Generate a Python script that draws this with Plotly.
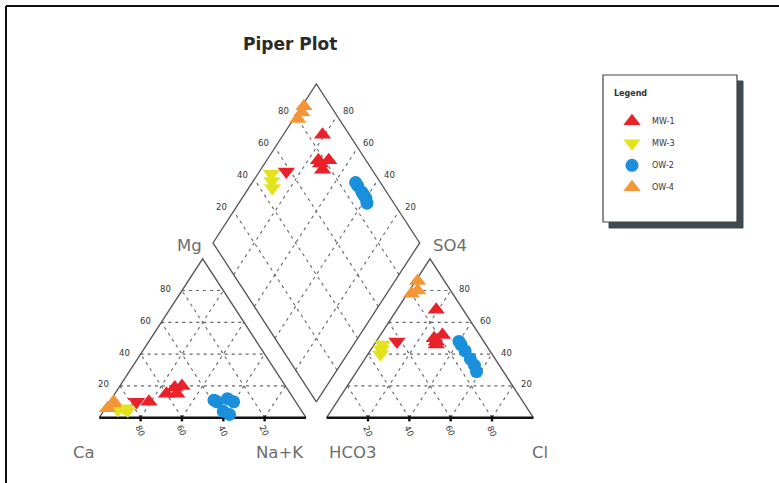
import numpy as np
import plotly.graph_objects as go

# ---------------- data (percent of meq) ----------------
mw1_ca   = [71, 60, 50, 55, 54]
mw1_mg   = [10, 15, 20, 15, 19]
mw1_nak  = [19, 25, 30, 30, 27]
mw1_hco3 = [13, 23, 18, 24, 23]
mw1_so4  = [68, 48, 52, 46, 50]
mw1_cl   = [19, 29, 30, 30, 27]

mw3_ca   = [88.5, 85, 84]
mw3_mg   = [5, 6, 4.5]
mw3_nak  = [6.5, 9, 11.5]
mw3_hco3 = [50, 52, 54]
mw3_so4  = [46, 43, 40]
mw3_cl   = [4, 5, 6]

# one extra sample drawn as a red down-triangle (not in the legend)
x_ca   = [77]
x_mg   = [10]
x_nak  = [13]
x_hco3 = [42]
x_so4  = [48]
x_cl   = [10]

ow2_ca   = [38, 32, 30, 38, 36, 39]
ow2_mg   = [10, 12, 10, 4, 2, 11]
ow2_nak  = [52, 56, 60, 58, 62, 50]
ow2_hco3 = [12, 12, 12, 12, 13, 12]
ow2_so4  = [46, 42, 37, 33, 29, 48]
ow2_cl   = [42, 46, 51, 55, 58, 40]

ow4_ca   = [93, 88, 89]
ow4_mg   = [6, 10, 9]
ow4_nak  = [1, 2, 2]
ow4_hco3 = [13, 16, 20]
ow4_so4  = [86, 80, 78]
ow4_cl   = [1, 4, 2]

tick_vals = [20, 40, 60, 80]

# ---------------- geometry ----------------
H = np.sqrt(3) / 2
GAP = 0.1


def cation_xy(mg, nak):
    mg = np.asarray(mg) / 100.0
    nak = np.asarray(nak) / 100.0
    return nak + mg / 2, mg * H


def anion_xy(so4, cl):
    so4 = np.asarray(so4) / 100.0
    cl = np.asarray(cl) / 100.0
    return 1 + GAP + cl + so4 / 2, so4 * H


def diamond_xy(nak, so4, cl):
    n = np.asarray(nak) / 100.0
    s = (np.asarray(so4) + np.asarray(cl)) / 100.0
    return 0.55 + (n + s) / 2, H * (1 + GAP + s - n)


def all_xy(mg, nak, so4, cl):
    cx, cy = cation_xy(mg, nak)
    ax, ay = anion_xy(so4, cl)
    dx, dy = diamond_xy(nak, so4, cl)
    return (np.concatenate([cx, ax, dx]).tolist(),
            np.concatenate([cy, ay, dy]).tolist())


B = (1.05, GAP * H)
L = (0.55, GAP * H + H)
R = (1.55, GAP * H + H)
T = (1.05, (2 + GAP) * H)

fig = go.Figure()

# grid lines
gx, gy = [], []
for v in tick_vals:
    f = v / 100.0
    for off in (0.0, 1 + GAP):
        gx += [off + f / 2, off + 1 - f / 2, None]; gy += [f * H, f * H, None]
        gx += [off + f, off + f + (1 - f) / 2, None]; gy += [0, (1 - f) * H, None]
        gx += [off + 1 - f, off + (1 - f) / 2, None]; gy += [0, (1 - f) * H, None]
    p = (B[0] + f * (R[0] - B[0]), B[1] + f * (R[1] - B[1]))
    q = (L[0] + f * (T[0] - L[0]), L[1] + f * (T[1] - L[1]))
    gx += [p[0], q[0], None]; gy += [p[1], q[1], None]
    p = (B[0] + f * (L[0] - B[0]), B[1] + f * (L[1] - B[1]))
    q = (R[0] + f * (T[0] - R[0]), R[1] + f * (T[1] - R[1]))
    gx += [p[0], q[0], None]; gy += [p[1], q[1], None]

fig.add_trace(go.Scatter(x=gx, y=gy, mode="lines", hoverinfo="skip", showlegend=False,
                         line=dict(color="#666666", width=1.1, dash="3px,4px")))

# outlines
ox = [0, 0.5, 1, None, 1 + GAP, 1.6, 2 + GAP, None,
      B[0], R[0], T[0], L[0], B[0]]
oy = [0, H, 0, None, 0, H, 0, None,
      B[1], R[1], T[1], L[1], B[1]]
fig.add_trace(go.Scatter(x=ox, y=oy, mode="lines", hoverinfo="skip", showlegend=False,
                         line=dict(color="#555555", width=1.3)))

# bases + ticks
bx = [0, 1, None, 1 + GAP, 2 + GAP, None]
by = [0, 0, None, 0, 0, None]
for v in tick_vals:
    f = v / 100.0
    for off in (0.0, 1 + GAP):
        bx += [off + f, off + f, None]
        by += [0.012, -0.02, None]
fig.add_trace(go.Scatter(x=bx, y=by, mode="lines", hoverinfo="skip", showlegend=False,
                         line=dict(color="#111111", width=2.4)))

# data series
series = [
    ("MW-1", mw1_mg, mw1_nak, mw1_so4, mw1_cl, "#e8212b", "triangle-up", 15, True),
    ("MW-3", mw3_mg, mw3_nak, mw3_so4, mw3_cl, "#e3e21c", "triangle-down", 15, True),
    ("OW-2", ow2_mg, ow2_nak, ow2_so4, ow2_cl, "#1a8fdc", "circle", 13, True),
    ("OW-4", ow4_mg, ow4_nak, ow4_so4, ow4_cl, "#f39638", "triangle-up", 15, True),
    ("extra", x_mg, x_nak, x_so4, x_cl, "#e8212b", "triangle-down", 15, False),
]
for name, mg, nak, so4, cl, col, sym, size, show in series:
    xs, ys = all_xy(mg, nak, so4, cl)
    fig.add_trace(go.Scatter(x=xs, y=ys, mode="markers", name=name, showlegend=show,
                             legendgroup=name,
                             marker=dict(color=col, symbol=sym, size=size, line=dict(width=0))))

# ---------------- text ----------------
ann = []
lab_font = dict(family="DejaVu Sans", size=16.5, color="#6e6e6e")
tick_font = dict(family="DejaVu Sans", size=8.5, color="#333333")


def add_label(x, y, text, font, xshift=0, yshift=0, angle=0):
    ann.append(dict(x=x, y=y, xref="x", yref="y", text=text, showarrow=False, font=font,
                    xanchor="center", yanchor="middle",
                    xshift=xshift, yshift=yshift, textangle=angle))


for v in tick_vals:
    f = v / 100.0
    add_label(f, 0, str(100 - v), tick_font, yshift=-13, angle=65)
    add_label(f / 2, f * H, str(v), tick_font, xshift=-16, yshift=1.5)
    add_label(1 + GAP + f, 0, str(v), tick_font, yshift=-13, angle=65)
    add_label(2 + GAP - f / 2, f * H, str(v), tick_font, xshift=14, yshift=1.5)
    add_label(L[0] + f * (T[0] - L[0]), L[1] + f * (T[1] - L[1]), str(v), tick_font,
              xshift=-12, yshift=4.5)
    add_label(R[0] + f * (T[0] - R[0]), R[1] + f * (T[1] - R[1]), str(v), tick_font,
              xshift=11, yshift=4.5)

add_label(0, 0, "Ca", lab_font, xshift=-15, yshift=-35)
add_label(1, 0, "Na+K", lab_font, xshift=-26, yshift=-35)
add_label(1 + GAP, 0, "HCO3", lab_font, xshift=26, yshift=-35)
add_label(2 + GAP, 0, "Cl", lab_font, xshift=7, yshift=-35)
add_label(0.5, H, "Mg", lab_font, xshift=-13, yshift=13)
add_label(1.6, H, "SO4", lab_font, xshift=20, yshift=13)

W, Hh = 779, 483


def px(x):
    return x / W


def py(y):
    return 1 - y / Hh


ann.append(dict(x=px(290), y=py(44), xref="paper", yref="paper", text="<b>Piper Plot</b>",
                xanchor="center", yanchor="middle",
                showarrow=False, font=dict(family="DejaVu Sans", size=17, color="#2a2a2a")))

shapes = [
    dict(type="line", xref="paper", yref="paper", x0=px(6), y0=py(6), x1=1, y1=py(6),
         line=dict(color="#111111", width=2)),
    dict(type="line", xref="paper", yref="paper", x0=px(6), y0=py(6), x1=px(6), y1=0,
         line=dict(color="#111111", width=2)),
    dict(type="rect", xref="paper", yref="paper", x0=px(609), y0=py(81), x1=px(743), y1=py(228),
         fillcolor="#3e4a52", line=dict(color="#3e4a52", width=1)),
    dict(type="rect", xref="paper", yref="paper", x0=px(603), y0=py(75), x1=px(737), y1=py(222),
         fillcolor="white", line=dict(color="#444444", width=1.2)),
]

fig.update_layout(
    width=W, height=Hh,
    margin=dict(l=0, r=0, t=0, b=0, pad=0),
    paper_bgcolor="white", plot_bgcolor="white",
    xaxis=dict(range=[-99.3 / 206.7, (W - 99.3) / 206.7], visible=False, fixedrange=True),
    yaxis=dict(range=[(417.7 - Hh) / 183.5, 417.7 / 183.5], visible=False, fixedrange=True),
    annotations=ann,
    shapes=shapes,
    legend=dict(x=px(612), y=py(86), xanchor="left", yanchor="top",
                bgcolor="rgba(0,0,0,0)", borderwidth=0, traceorder="grouped",
                font=dict(family="DejaVu Sans", size=8, color="#333333"),
                title=dict(text="<b>Legend</b><br> ",
                           font=dict(family="DejaVu Sans", size=8, color="#333333")),
                tracegroupgap=3, itemsizing="trace"),
    showlegend=True,
)

fig.write_html("out.html", config={"displayModeBar": False},
               post_script="document.body.style.margin='0px';")
